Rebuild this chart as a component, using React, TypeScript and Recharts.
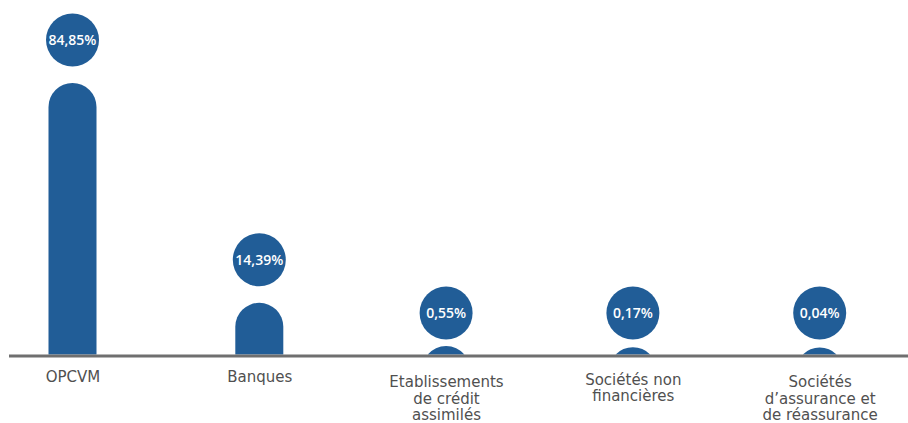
import { Bar, BarChart, LabelList, XAxis, YAxis } from 'recharts';

const CATEGORIES = [
  'OPCVM',
  'Banques',
  'Etablissements\nde crédit\nassimilés',
  'Sociétés non\nfinancières',
  'Sociétés\nd’assurance et\nde réassurance'
];
const SHARES = [84.85, 14.39, 0.55, 0.17, 0.04];
const SHARE_LABELS = ['84,85%', '14,39%', '0,55%', '0,17%', '0,04%'];

const BLUE = '#215d97';
const CAP_EXTRA = 8.3;
const BUBBLE_R = 26.5;
const BUBBLE_GAP = 43;

const data = CATEGORIES.map((name, i) => ({ name, value: SHARES[i], label: SHARE_LABELS[i] }));

function RoundBar(props: any) {
  const { x, y, width, height } = props;
  const base = y + height - 1.5;
  const top = y - CAP_EXTRA;
  const r = width / 2;
  const cx = x + r;
  const h = base - top;
  if (h <= 0) return null;
  let d: string;
  if (h >= r) {
    d = `M${x},${base} L${x},${top + r} A${r},${r} 0 0 1 ${x + width},${top + r} L${x + width},${base} Z`;
  } else {
    const hw = Math.sqrt(r * r - (r - h) * (r - h));
    d = `M${cx - hw},${base} A${r},${r} 0 0 1 ${cx + hw},${base} Z`;
  }
  return <path d={d} fill={BLUE} />;
}

function Bubble(props: any) {
  const { x, y, width, height, index } = props;
  const base = y + height;
  const top = y - CAP_EXTRA;
  const r = width / 2;
  const cx = x + r;
  const cy = base - top > r ? top - BUBBLE_GAP : base - BUBBLE_GAP;
  return (
    <g>
      <circle cx={cx} cy={cy} r={BUBBLE_R} fill={BLUE} />
      <text x={cx} y={cy + 5} textAnchor="middle" fill="#ffffff" fontSize={14} fontWeight={600} fontFamily="'Open Sans', sans-serif">
        {SHARE_LABELS[index]}
      </text>
    </g>
  );
}

function CategoryTick(props: any) {
  const { x, y, payload } = props;
  const lines = String(payload.value).split('\n');
  const first = y + 26 + (lines.length - 1) * 2.5;
  return (
    <text x={x} y={first} textAnchor="middle" fill="#505050" fontSize={15} fontFamily="'DejaVu Sans', sans-serif">
      {lines.map((line, i) => (
        <tspan key={i} x={x} y={first + i * 16.5}>
          {line}
        </tspan>
      ))}
    </text>
  );
}

export default function App() {
  return (
    <div style={{ position: 'absolute', left: 0, top: 0, background: '#ffffff' }}>
      <BarChart width={908} height={423} data={data} margin={{ top: 44, right: 0, left: 9, bottom: 0 }}>
        <XAxis
          dataKey="name"
          interval={0}
          height={67}
          tickLine={false}
          tickSize={0}
          tickMargin={0}
          axisLine={{ stroke: '#6f6f6f', strokeWidth: 3 }}
          tick={<CategoryTick />}
          padding={{ left: -29.5, right: -5.5 }}
        />
        <YAxis hide domain={[0, 100]} />
        <Bar dataKey="value" barSize={48} shape={<RoundBar />} isAnimationActive={false}>
          <LabelList dataKey="label" content={<Bubble />} />
        </Bar>
      </BarChart>
    </div>
  );
}
